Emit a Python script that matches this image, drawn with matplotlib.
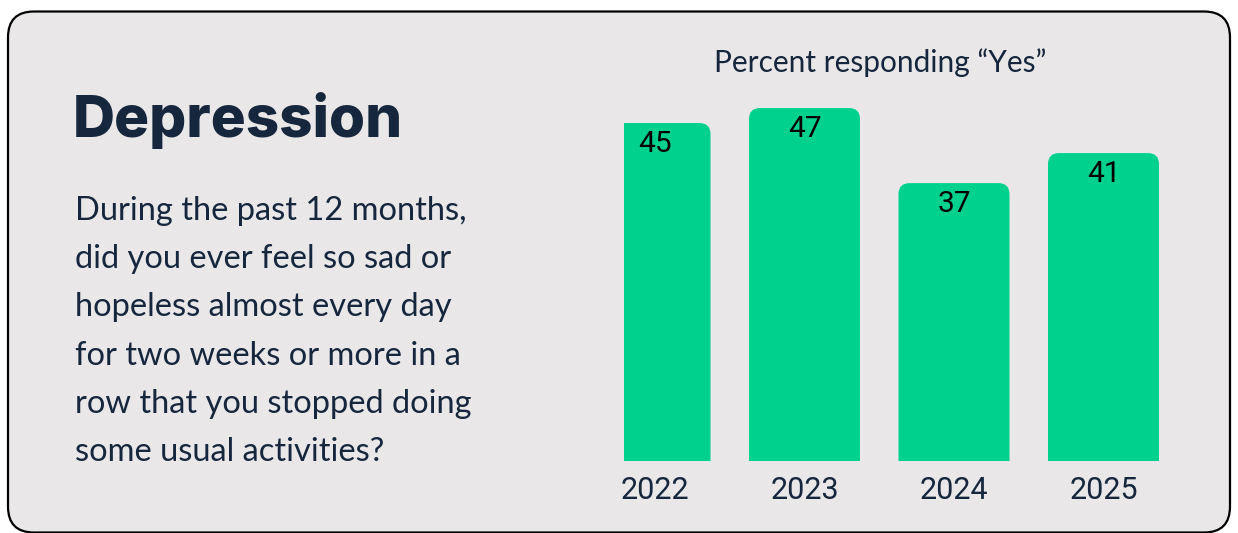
import matplotlib.pyplot as plt
from matplotlib.patches import FancyBboxPatch

# data
years = ["2022", "2023", "2024", "2025"]
pct_yes = [45, 47, 37, 41]

title = "Depression"
question = ("During the past 12 months,\n"
            "did you ever feel so sad or\n"
            "hopeless almost every day\n"
            "for two weeks or more in a\n"
            "row that you stopped doing\n"
            "some usual activities?")
chart_title = "Percent responding \u201cYes\u201d"

W, H = 1238, 533
navy = "#15263d"
green = "#00d28e"
panel = "#eae7e8"

fig = plt.figure(figsize=(W / 100, H / 100), dpi=100)
fig.patch.set_facecolor("white")

# rounded panel in figure coords
bg = FancyBboxPatch((8 / W, 0.5 / H), (W - 16) / W, (H - 12) / H,
                    boxstyle="round,pad=0,rounding_size=%f" % (26 / W),
                    mutation_aspect=W / H,
                    transform=fig.transFigure, facecolor=panel,
                    edgecolor="black", linewidth=1.6, zorder=-1)
fig.patches.append(bg)

fig.text(73 / W, 1 - 137 / H, title, fontsize=42, fontweight="heavy",
         family="Inter", color=navy, va="baseline")
fig.text(75 / W, 1 - 196 / H, question, fontsize=23.5, family="Lato",
         color=navy, va="top", linespacing=1.76)
fig.text(880 / W, 1 - 63 / H, chart_title, fontsize=21.5, family="Lato",
         color=navy, ha="center", va="center")

# axes: left at 624 px, bottom at 461 px
ax_l, ax_r, ax_b, ax_t = 624, 1180, 461, 95
ax = fig.add_axes([ax_l / W, 1 - ax_b / H, (ax_r - ax_l) / W, (ax_b - ax_t) / H])
ax.set_facecolor("none")
step = 149.5
x0 = -(655 - ax_l) / step
x1 = (ax_r - 655) / step
ppu = 7.51
ax.set_xlim(x0, x1)
ax.set_ylim(0, (ax_b - ax_t) / ppu)

bw = 111 / step
bars = ax.bar(range(len(years)), pct_yes, width=bw, color=green)
aspect = step / ppu
for b in bars:
    b.set_visible(False)
    p = FancyBboxPatch((b.get_x(), -5), b.get_width(), b.get_height() + 5,
                       boxstyle="round,pad=0,rounding_size=%f" % (11 / step),
                       mutation_aspect=aspect, facecolor=green,
                       edgecolor="none")
    ax.add_patch(p)

for i, v in enumerate(pct_yes):
    ax.text(i, v - 21 / ppu, str(v), ha="center", va="center",
            fontsize=21.5, family="Roboto", color="black")

ax.set_xticks(range(len(years)))
ax.set_xticklabels(years, fontsize=22, family="Roboto", color=navy)
ax.tick_params(axis="x", length=0, pad=11)
ax.set_yticks([])
for s in ax.spines.values():
    s.set_visible(False)

fig.savefig("out.png", dpi=100, facecolor=fig.get_facecolor())
